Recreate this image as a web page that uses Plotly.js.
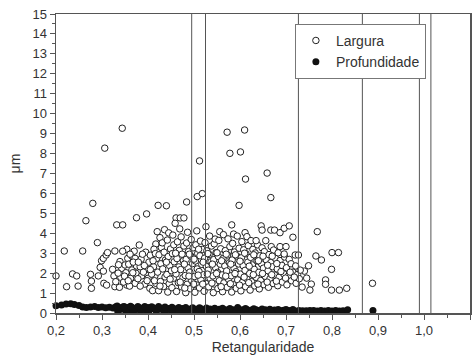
<!DOCTYPE html>
<html>
<head>
<meta charset="utf-8">
<script src="https://cdn.plot.ly/plotly-3.0.1.min.js"></script>
<style>
  html, body { margin: 0; padding: 0; background: #fff; }
  #chart { width: 473px; height: 358px; }
</style>
</head>
<body>
<div id="chart"></div>
<script>
// Largura (width) – scattered points around the main cloud
const largura_x = [
  0.200,0.218,0.223,0.236,0.245,0.248,0.258,0.265,0.280,0.275,0.277,0.277,0.290,0.292,0.296,0.299,
  0.303,0.309,0.312,0.303,0.304,0.310,0.306,0.328,0.332,0.345,0.323,0.326,0.328,0.330,0.339,0.343,
  0.354,0.356,0.350,0.352,0.354,0.341,0.338,0.344,0.365,0.365,0.362,0.375,0.372,0.375,0.374,0.372,
  0.381,0.383,0.386,0.397,0.397,0.400,0.404,0.412,0.415,0.417,0.419,0.417,0.420,
  0.335,0.347,0.358,0.368,0.370,0.378,0.385,0.390,0.393,0.395,0.402,0.405,0.408,0.410,0.413,0.360,0.388,0.345,
  0.336,0.349,0.357,0.361,0.367,0.379,0.383,0.392,0.398,0.405,0.411,0.414,0.416,
  0.422,0.440,0.484,0.507,0.512,0.518,0.572,0.578,0.601,0.610,0.612,0.598,0.659,0.667,0.461,0.470,0.478,0.459,
  0.735,0.740,0.745,0.749,0.755,0.765,0.777,0.768,0.786,0.786,0.799,0.800,0.814,0.799,0.816,0.832,0.888,0.720,0.727,0.752
];
const largura_y = [
  1.86,3.11,1.32,1.96,1.86,1.35,3.11,4.63,5.50,1.94,1.60,1.24,3.53,1.86,2.29,2.62,
  2.74,2.91,3.03,2.10,1.49,1.40,8.27,3.11,4.42,4.42,2.19,1.86,1.32,1.57,2.58,2.24,
  3.20,2.74,2.41,2.02,1.40,1.79,1.29,9.27,2.86,2.16,1.74,4.78,2.74,2.36,1.99,1.49,
  3.41,2.32,1.86,4.97,2.19,1.74,1.24,2.32,1.86,1.49,2.74,3.46,4.08,
  2.00,1.55,2.45,2.55,3.10,1.72,2.70,2.05,1.45,3.05,2.55,2.90,1.95,1.12,3.20,1.35,2.95,3.10,
  2.42,1.85,1.62,2.95,2.02,2.55,1.35,2.38,1.62,2.18,2.62,1.62,2.98,
  5.40,5.38,5.57,5.84,7.63,5.99,9.07,8.01,8.08,9.18,6.72,5.40,7.02,5.79,4.77,4.77,4.77,4.50,
  1.30,2.10,1.75,2.37,1.45,2.86,2.66,4.08,1.66,1.44,2.19,3.03,3.03,1.15,1.15,1.24,1.49,2.91,2.91,1.15
];

// Largura – dense cloud, [Retangularidade, µm] pairs grouped by x band
const cloud_a = [
  [0.423,1.12],[0.427,1.58],[0.421,2.05],[0.428,2.47],[0.424,2.92],[0.429,3.28],[0.426,3.78],
  [0.434,1.33],[0.437,1.81],[0.432,2.21],[0.438,2.66],[0.435,3.05],[0.431,3.52],[0.436,4.18],
  [0.443,1.05],[0.446,1.47],[0.441,1.93],[0.447,2.38],[0.444,2.83],[0.449,3.21],[0.442,3.66],[0.445,4.02],
  [0.452,1.27],[0.455,1.74],[0.451,2.12],[0.457,2.57],[0.453,2.98],[0.456,3.42],[0.454,3.91]
];
const cloud_b = [
  [0.462,1.08],[0.466,1.52],[0.461,1.96],[0.467,2.31],[0.463,2.73],[0.468,3.14],[0.464,3.57],[0.469,4.22],
  [0.473,1.31],[0.476,1.77],[0.471,2.18],[0.477,2.62],[0.474,2.95],[0.478,3.36],[0.472,3.82],
  [0.482,1.02],[0.485,1.44],[0.481,1.88],[0.487,2.27],[0.483,2.69],[0.488,3.08],[0.484,3.51],[0.486,4.05],
  [0.492,1.22],[0.495,1.63],[0.491,2.05],[0.497,2.48],[0.493,2.86],[0.498,3.27],[0.494,3.69]
];
const cloud_c = [
  [0.502,1.04],[0.505,1.41],[0.501,1.83],[0.507,2.21],[0.503,2.61],[0.508,2.99],[0.504,3.42],[0.506,4.12],
  [0.512,1.26],[0.515,1.67],[0.511,2.08],[0.517,2.44],[0.513,2.87],[0.518,3.19],[0.514,3.61],
  [0.522,1.09],[0.525,1.49],[0.521,1.92],[0.527,2.33],[0.523,2.75],[0.528,3.12],[0.524,3.53],[0.526,4.33],
  [0.532,1.31],[0.535,1.74],[0.531,2.15],[0.537,2.57],[0.533,2.94],[0.538,3.36],[0.534,3.86]
];
const cloud_d = [
  [0.542,1.02],[0.545,1.45],[0.541,1.86],[0.547,2.27],[0.543,2.68],[0.548,3.03],[0.544,3.47],[0.546,3.71],
  [0.552,1.23],[0.555,1.62],[0.551,2.04],[0.557,2.45],[0.553,2.83],[0.558,3.22],[0.554,3.64],[0.556,4.08],
  [0.562,1.07],[0.565,1.51],[0.561,1.91],[0.567,2.36],[0.563,2.72],[0.568,3.13],[0.564,3.93],
  [0.572,1.29],[0.575,1.69],[0.571,2.11],[0.577,2.52],[0.573,2.91],[0.578,3.33],[0.574,3.72],[0.582,4.42]
];
const cloud_e = [
  [0.582,1.05],[0.585,1.43],[0.581,1.87],[0.587,2.24],[0.583,2.66],[0.588,3.06],[0.584,3.49],[0.586,3.96],
  [0.592,1.24],[0.595,1.66],[0.591,2.07],[0.597,2.46],[0.593,2.86],[0.598,3.25],[0.594,3.86],
  [0.602,1.11],[0.605,1.53],[0.601,1.95],[0.607,2.37],[0.603,2.77],[0.608,3.17],[0.604,3.58],[0.611,4.03],
  [0.612,1.32],[0.615,1.72],[0.611,2.14],[0.617,2.55],[0.613,2.97],[0.618,3.38],[0.615,3.83]
];
const cloud_f = [
  [0.622,1.15],[0.625,1.57],[0.621,1.98],[0.627,2.41],[0.623,2.79],[0.628,3.19],[0.624,3.63],
  [0.632,1.36],[0.635,1.79],[0.631,2.19],[0.637,2.61],[0.633,3.01],[0.638,3.42],[0.635,3.63],
  [0.642,1.21],[0.645,1.63],[0.641,2.04],[0.647,2.46],[0.643,2.87],[0.648,3.27],[0.646,4.37],
  [0.652,1.42],[0.655,1.84],[0.651,2.25],[0.657,2.67],[0.653,3.08],[0.656,3.63],[0.648,4.16]
];
const cloud_g = [
  [0.662,1.29],[0.665,1.71],[0.661,2.12],[0.667,2.53],[0.663,2.93],[0.668,3.33],[0.667,4.16],
  [0.672,1.48],[0.675,1.91],[0.671,2.32],[0.677,2.74],[0.673,3.16],[0.675,4.16],
  [0.682,1.37],[0.685,1.79],[0.681,2.21],[0.687,2.63],[0.683,3.02],[0.687,3.33],[0.687,4.03],
  [0.692,1.55],[0.695,1.97],[0.691,2.39],[0.697,2.81],[0.696,2.96],[0.700,3.33],[0.696,4.25],
  [0.702,1.41],[0.705,1.85],[0.701,2.27],[0.707,2.69],[0.707,4.37],
  [0.712,1.62],[0.715,2.05],[0.711,2.47],[0.715,3.80],
  [0.722,1.49],[0.725,1.93],[0.721,2.36],[0.729,1.72],[0.731,2.15]
];
const cloud_core = [
  [0.426,1.35],[0.440,2.55],[0.448,1.70],[0.458,2.18],[0.460,3.00],[0.470,1.55],[0.479,2.45],[0.480,1.25],
  [0.489,1.85],[0.490,2.95],[0.499,1.45],[0.500,2.70],[0.509,1.90],[0.510,3.20],[0.519,1.45],[0.520,2.55],
  [0.529,1.95],[0.530,2.98],[0.539,1.50],[0.540,2.45],[0.549,1.98],[0.550,3.02],[0.559,1.32],[0.560,2.62],
  [0.569,1.85],[0.570,2.95],[0.579,1.47],[0.580,2.45],[0.589,1.98],[0.590,2.92],[0.599,1.40],[0.600,2.60],
  [0.609,1.80],[0.610,3.00],[0.619,1.52],[0.620,2.35],[0.629,1.92],[0.630,2.92],[0.639,1.45],[0.640,2.62],
  [0.649,1.98],[0.650,2.85],[0.659,1.55],[0.660,2.40],[0.669,1.92],[0.670,2.85],[0.679,1.60],[0.680,2.48],
  [0.689,2.08],[0.699,1.75],[0.709,2.05],[0.718,1.80]
];

// Profundidade (depth)
const prof_x = [
  0.200,0.212,0.222,0.232,0.240,0.250,0.258,0.266,0.275,0.284,0.292,0.300,0.308,0.316,0.324,0.330,0.336,
  0.340,0.345,0.350,0.355,0.360,0.365,0.370,0.375,0.380,0.385,0.390,0.395,0.400,0.405,0.410,0.415,0.420,
  0.425,0.430,0.435,0.440,0.445,0.450,0.455,0.460,0.465,0.470,0.475,0.480,0.485,0.490,0.495,0.500,0.505,
  0.510,0.515,0.520,0.525,0.530,0.535,0.540,0.545,0.550,0.555,0.560,0.565,0.570,0.575,0.580,0.585,0.590,
  0.595,0.600,0.605,0.610,0.615,0.620,0.625,0.630,0.635,0.640,0.645,0.650,0.655,0.660,0.665,0.670,0.675,
  0.680,0.685,0.690,0.695,0.700,0.705,0.710,0.715,0.720,0.728,0.736,0.744,0.752,0.760,0.768,0.776,0.784,
  0.792,0.800,0.808,0.816,0.824,0.834,0.889,
  0.334,0.352,0.368,0.384,0.402,0.418,0.434,0.452,0.468,0.486,0.502,0.518,0.536,0.552,0.568,0.586,0.602,
  0.618,0.636,0.652,0.668,0.686,0.702,
  0.333,0.348,0.362,0.378,0.393,0.408,0.423,0.437,0.452,0.467,0.482,0.497,0.512,0.527,0.545,0.562,0.578,
  0.595,0.612,0.630,0.648,0.665,0.683,0.700,0.715
];
const prof_y = [
  0.36,0.40,0.45,0.47,0.43,0.38,0.30,0.27,0.30,0.32,0.28,0.30,0.26,0.29,0.25,0.31,0.28,
  0.18,0.30,0.22,0.27,0.16,0.29,0.23,0.17,0.28,0.21,0.26,0.16,0.27,0.19,0.28,0.23,0.16,
  0.26,0.20,0.25,0.15,0.23,0.18,0.24,0.14,0.21,0.17,0.23,0.14,0.20,0.17,0.22,0.13,0.19,
  0.16,0.21,0.13,0.18,0.15,0.20,0.12,0.17,0.14,0.19,0.12,0.17,0.14,0.18,0.11,0.16,0.14,
  0.21,0.12,0.16,0.13,0.17,0.11,0.15,0.13,0.16,0.11,0.14,0.12,0.16,0.10,0.14,0.12,0.15,
  0.10,0.13,0.11,0.14,0.10,0.12,0.11,0.13,0.10,0.12,0.11,0.11,0.12,0.12,0.10,0.12,0.10,
  0.12,0.10,0.12,0.10,0.11,0.16,0.13,
  0.10,0.09,0.10,0.09,0.10,0.09,0.09,0.09,0.08,0.09,0.08,0.09,0.08,0.09,0.08,0.08,0.08,
  0.08,0.08,0.08,0.08,0.08,0.08,
  0.35,0.33,0.34,0.32,0.33,0.31,0.32,0.30,0.29,0.28,0.27,0.26,0.26,0.25,0.24,0.24,0.23,
  0.27,0.22,0.21,0.20,0.19,0.18,0.17,0.17
];

// Reference lines of Retangularidade
const ref_lines = [0.495, 0.525, 0.727, 0.866, 0.990, 1.015];

const cloud = [].concat(cloud_a, cloud_b, cloud_c, cloud_d, cloud_e, cloud_f, cloud_g, cloud_core);
const allLargX = largura_x.concat(cloud.map(p => p[0]));
const allLargY = largura_y.concat(cloud.map(p => p[1]));

const axisColor = '#555';
const fam = 'Liberation Sans, Arial, sans-serif';
const tickFont = { family: fam, size: 13, color: '#333' };
const titleFont = { family: fam, size: 14, color: '#333' };

const traces = [
  {
    name: 'Largura',
    type: 'scatter', mode: 'markers',
    x: allLargX, y: allLargY,
    cliponaxis: false,
    marker: { symbol: 'circle', size: 6.5, color: '#fff', line: { color: '#222', width: 1 } }
  },
  {
    name: 'Profundidade',
    type: 'scatter', mode: 'markers',
    x: prof_x, y: prof_y,
    cliponaxis: false,
    marker: { symbol: 'circle', size: 7, color: '#111', line: { width: 0 } }
  }
];

const layout = {
  width: 473, height: 358,
  margin: { l: 56, r: 3, t: 14, b: 45 },
  paper_bgcolor: '#fff', plot_bgcolor: '#fff',
  separators: ', ',
  font: tickFont,
  showlegend: true,
  legend: {
    x: 0.577, y: 0.967, xanchor: 'left', yanchor: 'top',
    bgcolor: '#fff', bordercolor: '#777', borderwidth: 1,
    font: { family: fam, size: 14, color: '#333' },
    tracegroupgap: 0
  },
  xaxis: {
    range: [0.2, 1.1], dtick: 0.1, tick0: 0.2, tickformat: '.1f',
    ticks: 'outside', ticklen: 5, tickcolor: axisColor, tickwidth: 1,
    minor: { dtick: 0.05, ticks: 'outside', ticklen: 3, tickcolor: axisColor },
    showline: true, linecolor: axisColor, linewidth: 1.5, mirror: true,
    showgrid: false, zeroline: false,
    tickfont: tickFont,
    title: { text: 'Retangularidade', font: titleFont, standoff: 5 }
  },
  yaxis: {
    range: [0, 15], dtick: 1, tick0: 0,
    ticks: 'outside', ticklen: 5, tickcolor: axisColor, tickwidth: 1,
    minor: { dtick: 0.5, ticks: 'outside', ticklen: 3, tickcolor: axisColor },
    showline: true, linecolor: axisColor, linewidth: 1.5, mirror: true,
    showgrid: false, zeroline: false,
    tickfont: tickFont,
    title: { text: 'μm', font: titleFont, standoff: 8 }
  },
  shapes: ref_lines.map(v => ({
    type: 'line', xref: 'x', yref: 'paper', x0: v, x1: v, y0: 0, y1: 1,
    layer: 'above', line: { color: '#555', width: 1 }
  }))
};

Plotly.newPlot('chart', traces, layout, { staticPlot: true, displayModeBar: false });
</script>
</body>
</html>
